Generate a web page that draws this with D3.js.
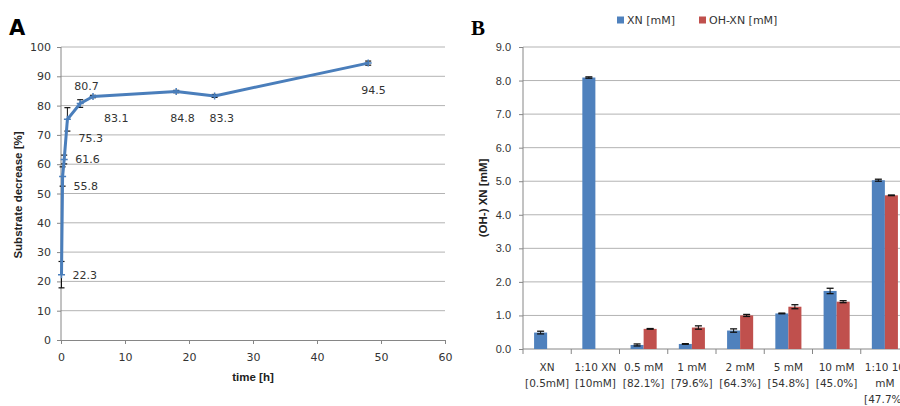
<!DOCTYPE html>
<html>
<head>
<meta charset="utf-8">
<script src="https://cdn.jsdelivr.net/npm/d3@7"></script>
<style>
  body { margin: 0; background: #fff; }
  svg { display: block; font-family: "DejaVu Sans", sans-serif; }
</style>
</head>
<body>
<div class="central"></div>
<script>
// Panel A data: substrate decrease over time
var timeH = [0.08, 0.25, 0.5, 1, 3, 5, 18, 24, 48];
var decrease = [22.3, 55.8, 61.6, 75.3, 80.7, 83.1, 84.8, 83.3, 94.5];
var decreaseErr = [4.5, 3.3, 1.5, 4.0, 1.3, 0.4, 0.4, 0.5, 0.7];
var xTicksA = [0, 10, 20, 30, 40, 50, 60];
var yTicksA = [0, 10, 20, 30, 40, 50, 60, 70, 80, 90, 100];

// Panel B data
var categories = [
  ["XN", "[0.5mM]"],
  ["1:10 XN", "[10mM]"],
  ["0.5 mM", "[82.1%]"],
  ["1 mM", "[79.6%]"],
  ["2 mM", "[64.3%]"],
  ["5 mM", "[54.8%]"],
  ["10 mM", "[45.0%]"],
  ["1:10 10", "mM", "[47.7%]"]
];
var seriesNames = ["XN [mM]", "OH-XN [mM]"];
var xnValues = [0.49, 8.09, 0.12, 0.15, 0.55, 1.06, 1.73, 5.03];
var xnErr = [0.04, 0.02, 0.03, 0.01, 0.05, 0.01, 0.08, 0.03];
var ohValues = [null, null, 0.60, 0.64, 1.00, 1.26, 1.41, 4.58];
var ohErr = [0, 0, 0.01, 0.05, 0.03, 0.06, 0.03, 0.01];
var yTicksB = [0, 1, 2, 3, 4, 5, 6, 7, 8, 9];

var width = 900, height = 406;
var blueLine = "#4a7ebb", blue = "#4f81bd", red = "#c0504d";
var gridCol = "#b3b3b3", axisCol = "#868686", txtCol = "#333";

var svg = d3.select(".central")
  .append("svg")
  .attr("width", width)
  .attr("height", height);

//---------------- Panel A ----------------
var xA = d3.scaleLinear().domain([0, 60]).range([61, 445]);
var yA = d3.scaleLinear().domain([0, 100]).range([340, 47]);

var gA = svg.append("g");

gA.selectAll(".gridA")
  .data(yTicksA.filter(function(d){ return d > 0; }))
  .enter().append("line")
  .attr("x1", xA(0)).attr("x2", xA(60))
  .attr("y1", function(d){ return yA(d); })
  .attr("y2", function(d){ return yA(d); })
  .style("stroke", gridCol).style("stroke-width", 1);

var axisYA = gA.append("g")
  .attr("transform", "translate(" + xA(0) + ",0)")
  .call(d3.axisLeft(yA).tickValues(yTicksA).tickSize(4).tickPadding(6));
var axisXA = gA.append("g")
  .attr("transform", "translate(0," + yA(0) + ")")
  .call(d3.axisBottom(xA).tickValues(xTicksA).tickSize(4).tickPadding(9));

[axisYA, axisXA].forEach(function(a){
  a.selectAll("path, line").style("stroke", axisCol);
  a.selectAll("text").style("font-size", "11px").style("fill", txtCol)
    .style("font-family", "DejaVu Sans");
});
axisYA.select(".domain").attr("d", "M0," + yA(0) + "V" + yA(100));

// error bars
var errA = gA.selectAll(".errA")
  .data(timeH.map(function(t, i){ return {t: t, v: decrease[i], e: decreaseErr[i]}; }))
  .enter().append("g");
errA.append("line")
  .attr("x1", function(d){ return xA(d.t); }).attr("x2", function(d){ return xA(d.t); })
  .attr("y1", function(d){ return yA(d.v - d.e); }).attr("y2", function(d){ return yA(d.v + d.e); })
  .style("stroke", "#111").style("stroke-width", 1);
[-1, 1].forEach(function(s){
  errA.append("line")
    .attr("x1", function(d){ return xA(d.t) - 3; }).attr("x2", function(d){ return xA(d.t) + 3; })
    .attr("y1", function(d){ return yA(d.v + s * d.e); }).attr("y2", function(d){ return yA(d.v + s * d.e); })
    .style("stroke", "#111").style("stroke-width", 1.2);
});

var lineA = d3.line()
  .x(function(d, i){ return xA(timeH[i]); })
  .y(function(d){ return yA(d); });

gA.append("path")
  .datum(decrease)
  .attr("d", lineA)
  .style("fill", "none")
  .style("stroke", blueLine)
  .style("stroke-width", 3)
  .style("stroke-linejoin", "round");

gA.selectAll(".markA")
  .data(decrease)
  .enter().append("path")
  .attr("d", function(d, i){
    var x = xA(timeH[i]), y = yA(d);
    return "M" + (x - 3.5) + "," + y + "H" + (x + 3.5) + "M" + x + "," + (y - 3.5) + "V" + (y + 3.5);
  })
  .style("stroke", blueLine).style("stroke-width", 1.5);

// data labels: offsets in px from point
var labelOff = [[11, 0], [11, 10], [11, 0], [11, 19], [-6, -17], [11, 22], [-6, 27], [-5, 22], [-7, 27]];
gA.selectAll(".labA")
  .data(decrease)
  .enter().append("text")
  .attr("x", function(d, i){ return xA(timeH[i]) + labelOff[i][0]; })
  .attr("y", function(d, i){ return yA(d) + labelOff[i][1]; })
  .attr("dy", "0.35em")
  .style("font-size", "11px")
  .style("fill", txtCol)
  .text(function(d){ return d.toFixed(1); });

gA.append("text")
  .attr("transform", "translate(22," + 195 + ") rotate(-90)")
  .attr("text-anchor", "middle")
  .style("font-family", "Liberation Sans, sans-serif")
  .style("font-weight", "bold")
  .style("font-size", "11.5px")
  .style("fill", "#222")
  .text("Substrate decrease [%]");

gA.append("text")
  .attr("x", xA(30)).attr("y", 381)
  .attr("text-anchor", "middle")
  .style("font-family", "Liberation Sans, sans-serif")
  .style("font-weight", "bold")
  .style("font-size", "11.5px")
  .style("fill", "#222")
  .text("time [h]");

svg.append("text")
  .attr("x", 9).attr("y", 35)
  .style("font-family", "DejaVu Sans, sans-serif")
  .style("font-weight", "bold")
  .style("font-size", "21px")
  .style("fill", "#000")
  .text("A");

//---------------- Panel B ----------------
var x0 = d3.scaleBand().domain(d3.range(categories.length)).range([523, 909]).paddingInner(0);
var barW = x0.bandwidth() / 3.7;
var x1 = d3.scaleBand().domain([0, 1])
  .range([(x0.bandwidth() - 2 * barW) / 2, (x0.bandwidth() + 2 * barW) / 2]);
var yB = d3.scaleLinear().domain([0, 9]).range([349, 47]);

var gB = svg.append("g");

gB.selectAll(".gridB")
  .data(yTicksB.filter(function(d){ return d > 0; }))
  .enter().append("line")
  .attr("x1", 523).attr("x2", 909)
  .attr("y1", function(d){ return yB(d); })
  .attr("y2", function(d){ return yB(d); })
  .style("stroke", gridCol).style("stroke-width", 1);

var axisYB = gB.append("g")
  .attr("transform", "translate(523,0)")
  .call(d3.axisLeft(yB).tickValues(yTicksB).tickSize(4).tickPadding(8).tickFormat(d3.format(".1f")));
axisYB.selectAll("path, line").style("stroke", axisCol);
axisYB.selectAll("text").style("font-size", "11px").style("fill", txtCol);
axisYB.select(".domain").attr("d", "M0," + yB(0) + "V" + yB(9));

gB.append("line")
  .attr("x1", 523).attr("x2", 909)
  .attr("y1", yB(0)).attr("y2", yB(0))
  .style("stroke", axisCol);
gB.selectAll(".catTick")
  .data(d3.range(categories.length + 1))
  .enter().append("line")
  .attr("x1", function(d){ return 523 + d * x0.step(); })
  .attr("x2", function(d){ return 523 + d * x0.step(); })
  .attr("y1", yB(0)).attr("y2", yB(0) + 5)
  .style("stroke", axisCol);

var seriesData = [xnValues, ohValues];
var seriesErr = [xnErr, ohErr];
var colors = [blue, red];

seriesData.forEach(function(vals, s){
  var bars = gB.selectAll(".bar" + s)
    .data(vals.map(function(v, i){ return {i: i, v: v, e: seriesErr[s][i]}; })
      .filter(function(d){ return d.v !== null; }))
    .enter().append("g");
  bars.append("rect")
    .attr("x", function(d){ return x0(d.i) + x1(s); })
    .attr("width", x1.bandwidth())
    .attr("y", function(d){ return yB(d.v); })
    .attr("height", function(d){ return yB(0) - yB(d.v); })
    .style("fill", colors[s]);
  var cx = function(d){ return x0(d.i) + x1(s) + x1.bandwidth() / 2; };
  bars.append("line")
    .attr("x1", cx).attr("x2", cx)
    .attr("y1", function(d){ return yB(d.v - d.e); })
    .attr("y2", function(d){ return yB(d.v + d.e); })
    .style("stroke", "#111");
  [-1, 1].forEach(function(k){
    bars.append("line")
      .attr("x1", function(d){ return cx(d) - 3.5; })
      .attr("x2", function(d){ return cx(d) + 3.5; })
      .attr("y1", function(d){ return yB(d.v + k * d.e); })
      .attr("y2", function(d){ return yB(d.v + k * d.e); })
      .style("stroke", "#111").style("stroke-width", 1.3);
  });
});

var catLabels = gB.selectAll(".catLab")
  .data(categories)
  .enter().append("text")
  .attr("text-anchor", "middle")
  .style("font-size", "10.5px")
  .style("fill", txtCol);
catLabels.selectAll("tspan")
  .data(function(d, i){ return d.map(function(t){ return {t: t, i: i}; }); })
  .enter().append("tspan")
  .attr("x", function(d){ return x0(d.i) + x0.bandwidth() / 2; })
  .attr("y", function(d, j){ return 371 + j * 16; })
  .text(function(d){ return d.t; });

gB.append("text")
  .attr("transform", "translate(487,198) rotate(-90)")
  .attr("text-anchor", "middle")
  .style("font-family", "Liberation Sans, sans-serif")
  .style("font-weight", "bold")
  .style("font-size", "11.5px")
  .style("fill", "#222")
  .text("(OH-) XN [mM]");

// legend
var legX = [617, 699];
var leg = gB.selectAll(".leg")
  .data(seriesNames)
  .enter().append("g")
  .attr("transform", function(d, i){ return "translate(" + legX[i] + ",20)"; });
leg.append("rect")
  .attr("x", 0).attr("y", -3.5).attr("width", 7).attr("height", 7)
  .style("fill", function(d, i){ return colors[i]; });
leg.append("text")
  .attr("x", 10).attr("dy", "0.35em")
  .style("font-size", "11px")
  .style("fill", txtCol)
  .text(function(d){ return d; });

svg.append("text")
  .attr("x", 471).attr("y", 35)
  .style("font-family", "Liberation Serif, serif")
  .style("font-weight", "bold")
  .style("font-size", "21px")
  .style("fill", "#000")
  .text("B");
</script>
</body>
</html>
